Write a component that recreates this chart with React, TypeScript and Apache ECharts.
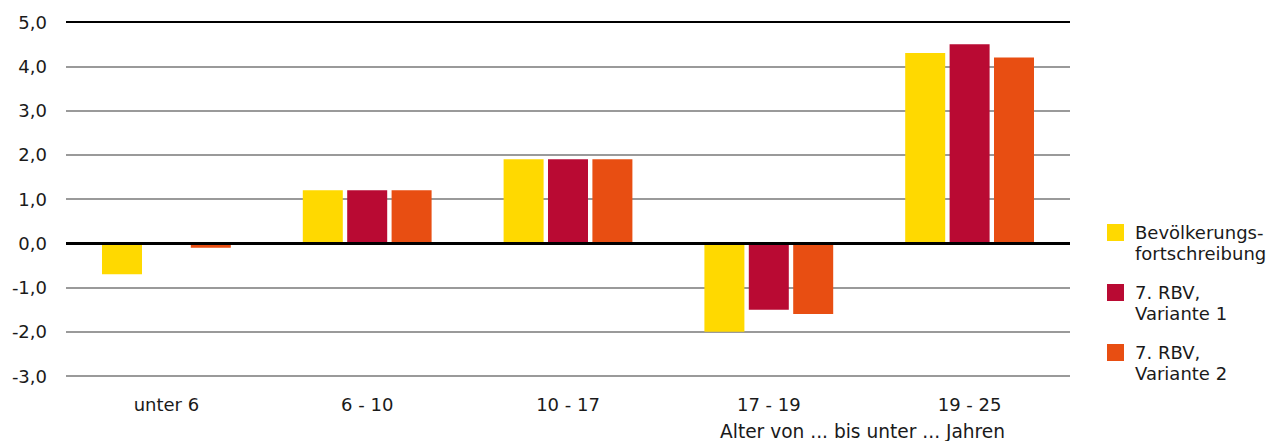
import React, { useEffect, useRef } from "react";
import * as echarts from "echarts";

const categories = ["unter 6", "6 - 10", "10 - 17", "17 - 19", "19 - 25"];
const seriesNames = ["Bevölkerungs-\nfortschreibung", "7. RBV,\nVariante 1", "7. RBV,\nVariante 2"];
const fortschreibung = [-0.7, 1.2, 1.9, -2.0, 4.3];
const variante1 = [0, 1.2, 1.9, -1.5, 4.5];
const variante2 = [-0.1, 1.2, 1.9, -1.6, 4.2];
const colors = ["#FFD900", "#B90A33", "#E84E12"];
const axisTitle = "Alter von ... bis unter ... Jahren";

const FONT = "DejaVu Sans";

export default function App() {
  const ref = useRef<HTMLDivElement>(null);
  useEffect(() => {
    document.body.style.margin = "0";
    const chart = echarts.init(ref.current!, null, { renderer: "svg" });
    const values = [fortschreibung, variante1, variante2];
    const splitColors = ["#9a9a9a", "#9a9a9a", "#9a9a9a", "#9a9a9a", "#9a9a9a", "#9a9a9a", "#9a9a9a", "#9a9a9a", "#000000"];
    chart.setOption({
      animation: false,
      textStyle: { fontFamily: FONT },
      grid: { left: 66, right: 202, top: 22, bottom: 65, containLabel: false },
      xAxis: {
        type: "category",
        data: categories,
        axisLine: { show: false, onZero: false },
        axisTick: { show: false },
        axisLabel: { color: "#1a1a1a", fontSize: 18, fontFamily: FONT, margin: 19 },
      },
      yAxis: {
        type: "value",
        min: -3,
        max: 5,
        interval: 1,
        axisLine: { show: false },
        axisTick: { show: false },
        axisLabel: {
          color: "#1a1a1a",
          fontSize: 18,
          fontFamily: FONT,
          margin: 19,
          formatter: (v: number) => v.toFixed(1).replace(".", ","),
        },
        splitLine: { lineStyle: { color: splitColors, width: 2 } },
      },
      legend: {
        orient: "vertical",
        left: 1107,
        top: 201,
        padding: 0,
        itemGap: -3,
        itemWidth: 17,
        itemHeight: 17,
        icon: "rect",
        selectedMode: false,
        formatter: (name: string) => "\n" + name,
        textStyle: {
          color: "#1a1a1a",
          fontSize: 18,
          fontFamily: FONT,
          lineHeight: 21,
          padding: [0, 0, 0, 6],
        },
        data: seriesNames,
      },
      graphic: [
        {
          type: "text",
          x: 720,
          y: 431,
          style: {
            text: axisTitle,
            fill: "#1a1a1a",
            font: `18.6px "${FONT}"`,
            textAlign: "left",
            textVerticalAlign: "middle",
          },
        },
      ],
      series: seriesNames.map((name, i) => ({
        name,
        type: "bar",
        data: values[i],
        barWidth: 40,
        barGap: "11%",
        itemStyle: { color: colors[i] },
        markLine:
          i === 0
            ? {
                silent: true,
                symbol: "none",
                label: { show: false },
                lineStyle: { color: "#000", width: 3, type: "solid" },
                data: [{ yAxis: 0 }],
              }
            : undefined,
      })),
    });
    return () => chart.dispose();
  }, []);
  return <div ref={ref} style={{ width: 1272, height: 441 }} />;
}
